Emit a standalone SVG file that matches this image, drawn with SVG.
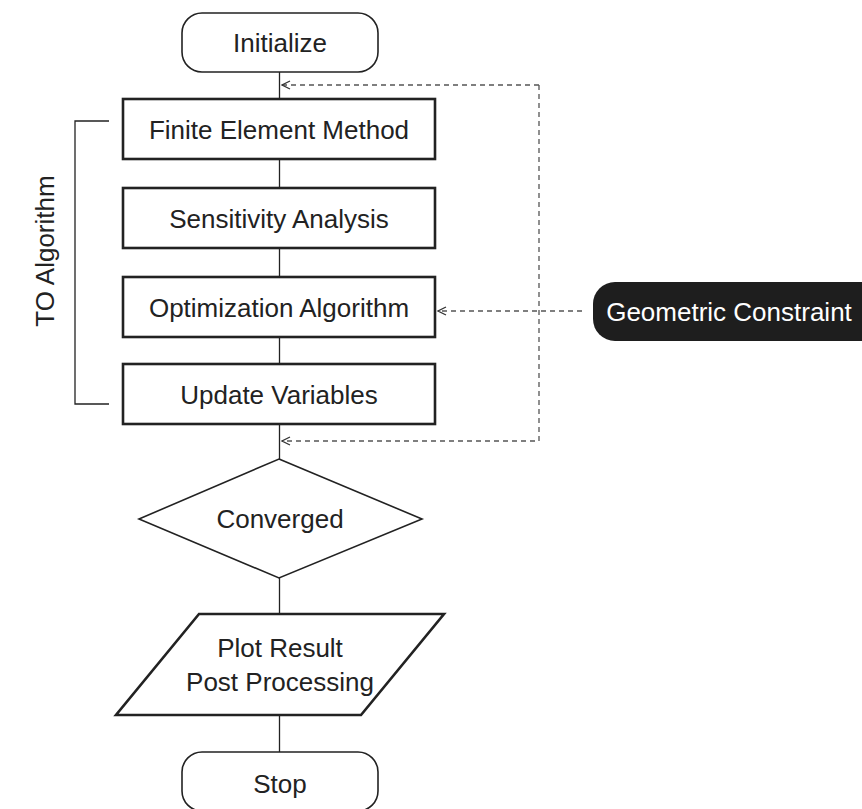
<svg xmlns="http://www.w3.org/2000/svg" width="862" height="809" viewBox="0 0 862 809">
<defs>
<style>
.t{font-family:"Liberation Sans",Arial,sans-serif;font-size:26px;fill:#222;text-anchor:middle}
.w{fill:#fff}
.thin{fill:#fff;stroke:#222;stroke-width:1.6}
.thick{fill:#fff;stroke:#222;stroke-width:2.6}
.ln{fill:none;stroke:#222;stroke-width:1.3}
.dash{fill:none;stroke:#555;stroke-width:1.3;stroke-dasharray:5 4}
</style>
<marker id="ah" viewBox="0 0 10 10" refX="9" refY="5" markerWidth="10" markerHeight="10" markerUnits="userSpaceOnUse" orient="auto">
<path d="M1,1 L9,5 L1,9" fill="none" stroke="#333" stroke-width="1.3"/>
</marker>
</defs>
<rect width="862" height="809" fill="#fff"/>
<g id="connectors">
<path class="ln" d="M279.5,72 V99 M279.5,159 V188 M279.5,248 V277 M279.5,337 V364 M279.5,424 V459 M279.5,578 V614 M279.5,715 V752"/>
<path class="dash" d="M539,85 H282" marker-end="url(#ah)"/>
<path class="dash" d="M539,85 V441 H282" marker-end="url(#ah)"/>
<path class="dash" d="M582,311 H438" marker-end="url(#ah)"/>
<path class="ln" d="M109,121 H75 V404 H109"/>
</g>
<g id="initialize">
<rect class="thin" x="182" y="13" width="196" height="59" rx="20"/>
<text class="t" x="280" y="52">Initialize</text>
</g>
<g id="fem">
<rect class="thick" x="123" y="99" width="312" height="60"/>
<text class="t" x="279" y="139">Finite Element Method</text>
</g>
<g id="sensitivity">
<rect class="thick" x="123" y="188" width="312" height="60"/>
<text class="t" x="279" y="228">Sensitivity Analysis</text>
</g>
<g id="optimization">
<rect class="thick" x="123" y="277" width="312" height="60"/>
<text class="t" x="279" y="317">Optimization Algorithm</text>
</g>
<g id="update">
<rect class="thick" x="123" y="364" width="312" height="60"/>
<text class="t" x="279" y="404">Update Variables</text>
</g>
<g id="to-algorithm">
<text class="t" transform="translate(54,251) rotate(-90)" x="0" y="0">TO Algorithm</text>
</g>
<g id="geometric">
<rect x="593" y="282" width="290" height="59" rx="22" fill="#1e1e1e"/>
<text class="t w" x="729" y="321">Geometric Constraint</text>
</g>
<g id="converged">
<polygon class="thin" points="279,459 422,519 279,578 139,519"/>
<text class="t" x="280" y="528">Converged</text>
</g>
<g id="plot">
<polygon class="thick" points="199,614 444,614 361,715 116,715"/>
<text class="t" x="280" y="657">Plot Result</text>
<text class="t" x="280" y="691">Post Processing</text>
</g>
<g id="stop">
<rect class="thin" x="182" y="752" width="196" height="59" rx="20"/>
<text class="t" x="280" y="793">Stop</text>
</g>
</svg>
